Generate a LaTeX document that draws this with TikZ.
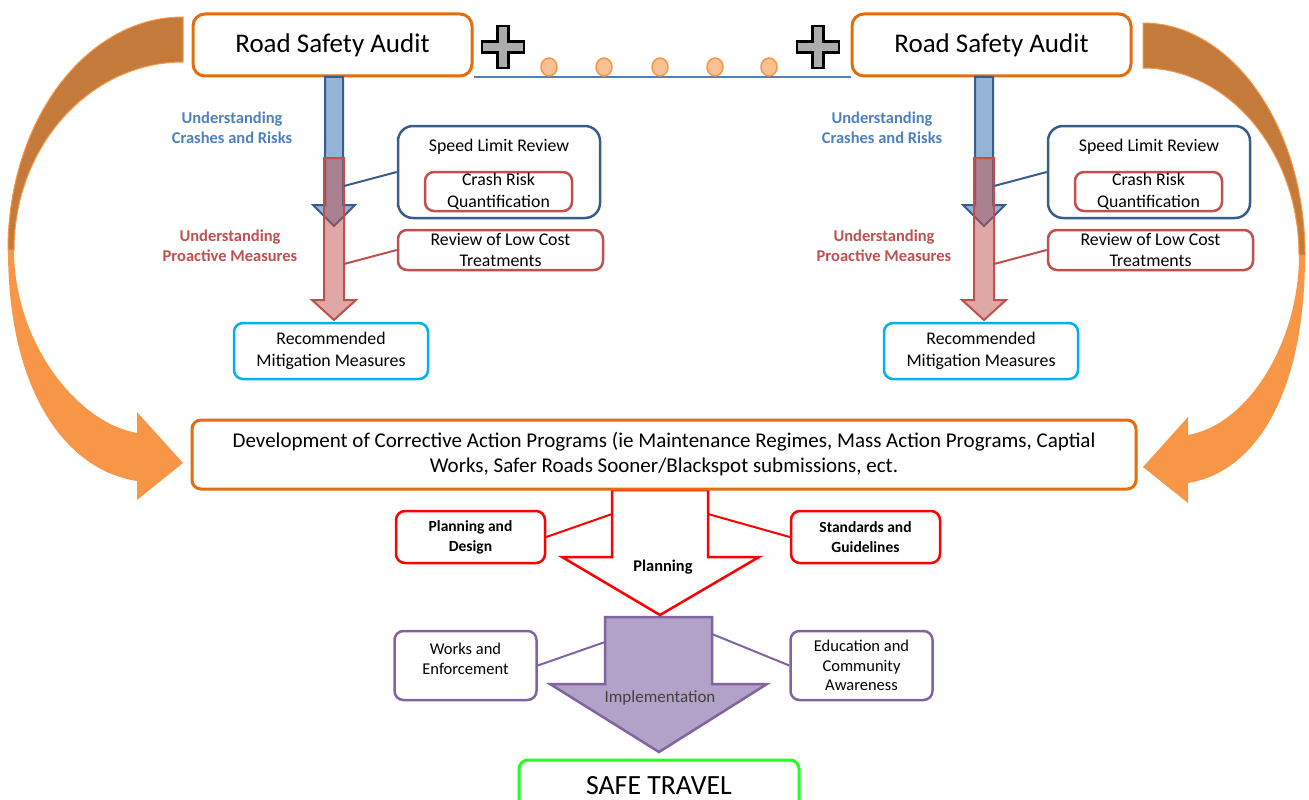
\documentclass[tikz,border=0pt]{standalone}
\usepackage{fontspec}
\setmainfont{Carlito}
\usepackage{xcolor}
\usetikzlibrary{arrows.meta,positioning,calc}

\definecolor{rsaorange}{HTML}{E46C0A}
\definecolor{loopdark}{HTML}{C47A3A}
\definecolor{looplight}{HTML}{F79646}
\definecolor{dotfill}{HTML}{FAC090}
\definecolor{lineblue}{HTML}{4F81BD}
\definecolor{darkblue}{HTML}{385D8A}
\definecolor{softred}{HTML}{C0504D}
\definecolor{arrowblue}{HTML}{95B3D7}
\definecolor{mitcyan}{HTML}{00B0F0}
\definecolor{implfill}{HTML}{B3A2C7}
\definecolor{implline}{HTML}{8064A2}
\definecolor{safegreen}{HTML}{22FF22}

\begin{document}
\begin{tikzpicture}[
    x=1pt, y=-1pt,
    every node/.style={font=\fontsize{17.8}{21.5}\selectfont, align=center, inner sep=0pt},
    box/.style={rectangle, draw, rounded corners=9pt, line width=2.5pt},
    rsabox/.style={box, draw=rsaorange, line width=3pt, rounded corners=12pt, minimum width=279pt, minimum height=62pt, font=\fontsize{27}{30}\selectfont},
    spdbox/.style={box, draw=darkblue, rounded corners=15pt, minimum width=202pt, minimum height=92pt},
    crashbox/.style={box, draw=softred, minimum width=147pt, minimum height=39pt},
    costbox/.style={box, draw=softred, minimum width=205pt, minimum height=40pt},
    recbox/.style={box, draw=mitcyan, minimum width=194pt, minimum height=56pt},
    devbox/.style={box, draw=rsaorange, line width=3pt, minimum width=944pt, minimum height=69pt, font=\fontsize{21}{25}\selectfont},
    planbox/.style={box, draw=red, minimum width=149pt, minimum height=52pt, font=\bfseries\fontsize{15.5}{20}\selectfont},
    implbox/.style={box, draw=implline, minimum width=142pt, minimum height=69pt, font=\fontsize{16.5}{19.5}\selectfont},
    safebox/.style={box, draw=safegreen, line width=3pt, minimum width=280pt, minimum height=52pt, font=\fontsize{27.8}{30}\selectfont},
    lblblue/.style={font=\bfseries\fontsize{16.5}{20}\selectfont, text=lineblue},
    lblred/.style={font=\bfseries\fontsize{16.5}{20}\selectfont, text=softred},
    link/.style={line width=2pt},
]
    \useasboundingbox (0,0) rectangle (1309,800);

    % Loop arrows (back side dark, front side light)
    \fill[looplight] (8,250) .. controls (8,390) and (65,470) .. (137,481) -- (137,500) -- (183,463)
        -- (137,412) -- (137,433) .. controls (75,422) and (14,340) .. (14,250) -- cycle;
    \filldraw[loopdark, draw=looplight, line width=1pt] (183,17) .. controls (86,17) and (8,121) .. (8,250)
        -- (14,250) .. controls (14,146) and (90,62) .. (183,62) -- cycle;
    \fill[looplight] (1305,255) .. controls (1305,395) and (1255,472) .. (1188,483) -- (1188,503) -- (1143,467)
        -- (1188,417) -- (1188,435) .. controls (1250,424) and (1299,340) .. (1299,255) -- cycle;
    \filldraw[loopdark, draw=looplight, line width=1pt] (1143,23) .. controls (1232,23) and (1305,127) .. (1305,255)
        -- (1299,255) .. controls (1299,152) and (1229,68) .. (1143,68) -- cycle;

    % Audits
    \node[rsabox] (rsaL) at (332.5,45) {Road Safety Audit};
    \node[rsabox] (rsaR) at (991.5,45) {Road Safety Audit};
    \draw[lineblue, line width=2pt] (rsaL.south east) -- (rsaR.south west);
    \foreach \dx in {549,604,660,715,769} {
        \draw[looplight, line width=1.5pt] (\dx,70) -- (\dx,76);
        \draw[looplight, fill=dotfill, line width=1.5pt] (\dx,67) ellipse (8pt and 9pt);
    }
    \foreach \px in {503,818} {
        \draw[fill=gray!65, line width=2.5pt] (\px,47) ++(-5.5,-21) -- ++(11,0) -- ++(0,15.5) -- ++(15.5,0)
            -- ++(0,11) -- ++(-15.5,0) -- ++(0,15.5) -- ++(-11,0) -- ++(0,-15.5) -- ++(-15.5,0) -- ++(0,-11) -- ++(15.5,0) -- cycle;
    }

    % Left audit flow
    \draw[darkblue, fill=arrowblue, line width=2pt] (325,77) -- (343,77) -- (343,205) -- (355,205)
        -- (334,226) -- (313,205) -- (325,205) -- cycle;
    \draw[softred, fill=softred, fill opacity=0.5, line width=2pt] (324,158) -- (344,158) -- (344,300)
        -- (356,300) -- (334,320) -- (312,300) -- (324,300) -- cycle;
    \coordinate (tapL1) at (344,186);
    \coordinate (tapL2) at (344,264);
    \node[lblblue] (crashlblL) at (232,128) {Understanding\\Crashes and Risks};
    \node[lblred] (prolblL) at (230,246) {Understanding\\Proactive Measures};
    \node[spdbox] (speedL) at (499,172) {};
    \node (speedtxtL) at (499,147) {Speed Limit Review};
    \node[crashbox] (crashL) at (498.5,191.5) {Crash Risk\\Quantification};
    \node[costbox] (costL) at (500.5,250) {Review of Low Cost\\Treatments};
    \node[recbox] (recL) at (331,351) {Recommended\\Mitigation Measures};
    \draw[link, darkblue] (tapL1) -- (speedL.west);
    \draw[link, softred] (tapL2) -- (costL.west);

    % Right audit flow
    \draw[darkblue, fill=arrowblue, line width=2pt] (975,77) -- (993,77) -- (993,205) -- (1005,205)
        -- (984,226) -- (963,205) -- (975,205) -- cycle;
    \draw[softred, fill=softred, fill opacity=0.5, line width=2pt] (974,158) -- (994,158) -- (994,300)
        -- (1006,300) -- (984,320) -- (962,300) -- (974,300) -- cycle;
    \coordinate (tapR1) at (994,186);
    \coordinate (tapR2) at (994,264);
    \node[lblblue] (crashlblR) at (882,128) {Understanding\\Crashes and Risks};
    \node[lblred] (prolblR) at (884,246) {Understanding\\Proactive Measures};
    \node[spdbox] (speedR) at (1149,172) {};
    \node (speedtxtR) at (1149,147) {Speed Limit Review};
    \node[crashbox] (crashR) at (1148.5,191.5) {Crash Risk\\Quantification};
    \node[costbox] (costR) at (1150.5,250) {Review of Low Cost\\Treatments};
    \node[recbox] (recR) at (981,351) {Recommended\\Mitigation Measures};
    \draw[link, darkblue] (tapR1) -- (speedR.west);
    \draw[link, softred] (tapR2) -- (costR.west);

    % Implementation and planning arrows
    \draw[implline, fill=implfill, line width=2.5pt] (605,617) -- (712,617) -- (712,684) -- (767,684)
        -- (659,752) -- (550,684) -- (605,684) -- cycle;
    \draw[red, fill=white, line width=2.5pt] (612,490) -- (708,490) -- (708,557) -- (759,557)
        -- (660,615) -- (562,557) -- (612,557) -- cycle;

    % Programs
    \node[devbox] (dev) at (664,454.5) {Development of Corrective Action Programs (ie Maintenance Regimes, Mass Action Programs, Captial\\Works, Safer Roads Sooner/Blackspot submissions, ect.};

    % Planning
    \coordinate (planL) at (612,514);
    \coordinate (planR) at (708,514);
    \node[planbox] (design) at (470.5,537) {Planning and\\Design};
    \node[planbox] (standards) at (865.5,537) {Standards and\\Guidelines};
    \node[font=\bfseries\fontsize{16.4}{20}\selectfont] (plantxt) at (663,567) {Planning};
    \draw[link, red] (design.east) -- (planL);
    \draw[link, red] (standards.west) -- (planR);

    % Implementation
    \coordinate (implL) at (605,642);
    \coordinate (implR) at (712,634);
    \node[implbox] (works) at (465.5,665.5) {};
    \node[font=\fontsize{16.5}{19.5}\selectfont] (workstxt) at (465.5,659) {Works and\\Enforcement};
    \node[implbox] (education) at (861.5,665.5) {Education and\\Community\\Awareness};
    \node[font=\fontsize{17}{20}\selectfont, text=black!75] (impltxt) at (660,698) {Implementation};
    \draw[link, implline] (works.east) -- (implL);
    \draw[link, implline] (education.west) -- (implR);

    % Outcome
    \node[safebox] (safe) at (659,786) {SAFE TRAVEL};
\end{tikzpicture}
\end{document}
